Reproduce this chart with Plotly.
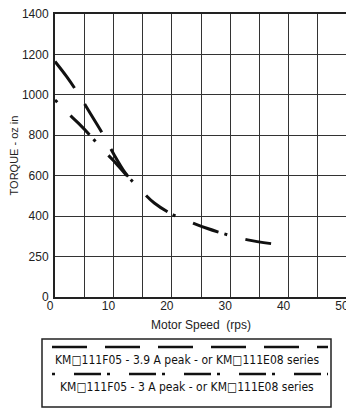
import numpy as np
import plotly.graph_objects as go

# torque axis is not linear in the original: ticks are evenly spaced
y_ticks = [0, 250, 400, 600, 800, 1000, 1200, 1400]
y_pos = list(range(len(y_ticks)))

# KM?111F05 - 3.9 A peak (joins the 3 A curve near 13 rps)
speed_a = [0, 2, 4, 6, 8, 10, 12, 13]
torque_a = [1165, 1090, 1005, 910, 815, 710, 615, 580]

# KM?111F05 - 3 A peak
speed_b = [0, 2, 4, 6, 8, 10, 12, 13, 15, 17, 20, 23, 26, 30, 33, 37]
torque_b = [975, 915, 860, 800, 735, 675, 610, 580, 520, 465, 410, 380, 355, 328, 312, 298]

legend_names = ["KM\u25a1111F05 - 3.9 A peak - or KM\u25a1111E08 series",
                "KM\u25a1111F05 - 3 A peak - or KM\u25a1111E08 series"]

# page body has an 8px margin, so the figure is a bit smaller than the window
OFF = 8
W, H = 354 - OFF, 418 - OFF
L, R, T, B = 55 - OFF, 7, 14 - OFF, 121


def to_pos(t):
    return np.interp(t, y_ticks, y_pos)


# window pixel -> paper coordinate
def px(x):
    return (x - OFF - L) / (W - L - R)


def py(y):
    return (H - B - (y - OFF)) / (H - T - B)


dash_a = "33px,19px"
dash_b = "3px,19px,27px,6px"

fig = go.Figure()
fig.add_trace(go.Scatter(x=speed_a, y=to_pos(torque_a), mode="lines", name=legend_names[0],
                         customdata=torque_a, hovertemplate="%{x} rps, %{customdata} oz in",
                         line=dict(color="#111", width=3, dash=dash_a, shape="spline")))
fig.add_trace(go.Scatter(x=speed_b, y=to_pos(torque_b), mode="lines", name=legend_names[1],
                         customdata=torque_b, hovertemplate="%{x} rps, %{customdata} oz in",
                         line=dict(color="#111", width=3, dash=dash_b, shape="spline")))

# legend box drawn by hand like the datasheet
fig.add_shape(type="rect", xref="paper", yref="paper", x0=px(42), x1=px(331), y0=py(339), y1=py(407),
              line=dict(color="#222", width=1.5))
fig.add_shape(type="line", xref="paper", yref="paper", x0=px(52), x1=px(328), y0=py(347), y1=py(347),
              line=dict(color="#111", width=2.5, dash="35px,18px"))
fig.add_shape(type="line", xref="paper", yref="paper", x0=px(52), x1=px(328), y0=py(374), y1=py(374),
              line=dict(color="#111", width=2.5, dash=dash_b))
for name, yy in zip(legend_names, [360, 387]):
    fig.add_annotation(text=name, xref="paper", yref="paper", x=px(187), y=py(yy), showarrow=False,
                       xanchor="center", yanchor="middle",
                       font=dict(family="DejaVu Sans Condensed", size=12, color="#111"))

fig.update_layout(
    width=W, height=H, margin=dict(l=L, r=R, t=T, b=B),
    paper_bgcolor="white", plot_bgcolor="white", showlegend=False,
    font=dict(family="Liberation Sans, Arial", size=12, color="#222"),
)
fig.update_xaxes(range=[0, 50], tickvals=[0, 10, 20, 30, 40, 50], showgrid=True, gridcolor="#333", gridwidth=1.3,
                 minor=dict(dtick=5, showgrid=True, gridcolor="#333", gridwidth=1.3), automargin=False,
                 showline=True, linecolor="#222", linewidth=2, mirror=True, ticks="", ticklabelstandoff=-3,
                 ticklabelshift=-5, ticklabeloverflow="allow",
                 title=dict(text="Motor Speed  (rps)", standoff=8, font=dict(size=12)), zeroline=False)
fig.update_yaxes(range=[0, 7], tickvals=y_pos, ticktext=[str(v) for v in y_ticks], showgrid=True,
                 gridcolor="#333", gridwidth=1.3, showline=True, linecolor="#222", linewidth=2, mirror=True,
                 ticks="", ticklabelstandoff=2, automargin=False, ticklabeloverflow="allow",
                 title=dict(text="TORQUE - oz in", standoff=2, font=dict(size=11)), zeroline=False)

fig.write_html("out.html")
